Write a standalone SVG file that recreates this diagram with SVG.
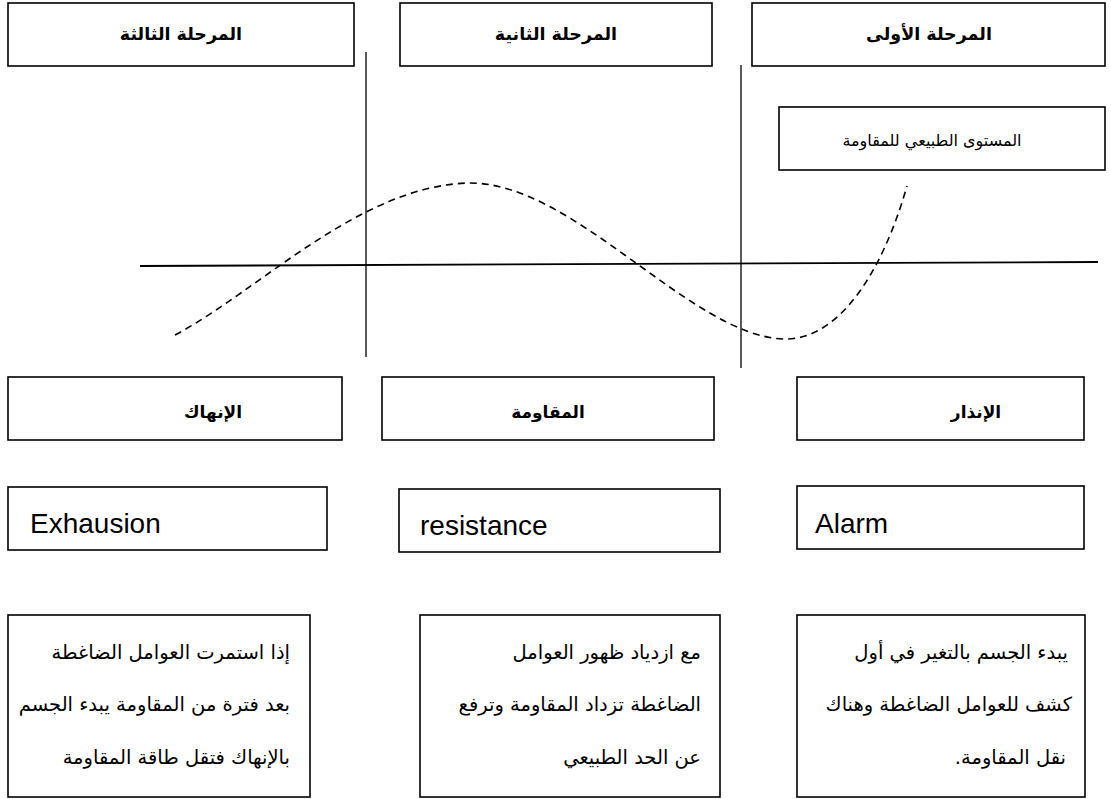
<svg xmlns="http://www.w3.org/2000/svg" width="1111" height="799" viewBox="0 0 1111 799">
<style>
.box{fill:#fff;stroke:#000;stroke-width:1.6}
.ar{font-family:"DejaVu Sans",sans-serif;fill:#000;direction:rtl}
.hd{font-size:17.5px;font-weight:bold;text-anchor:middle}
.hm{font-size:17px;font-weight:bold;text-anchor:middle}
.tx{font-size:19.5px;text-anchor:start}
.en{font-family:"Liberation Sans",Arial,sans-serif;font-size:28px;fill:#000}
.ln{stroke:#000;stroke-width:1.3;fill:none}
.curve{stroke:#000;stroke-width:1.6;fill:none;stroke-dasharray:7 5}
</style>
<rect width="1111" height="799" fill="#fff"/>
<g id="connectors">
<line class="ln" x1="366" y1="52" x2="366" y2="357"/>
<line class="ln" x1="741" y1="65" x2="741" y2="368"/>
<line class="ln" x1="140" y1="266" x2="1098" y2="262" style="stroke-width:1.8"/>
<path class="curve" d="M175,335 C260,290 360,185 470,183 C575,183 690,335 783,339 C835,341 880,280 907,186"/>
</g>
<g id="stage3"><rect class="box" x="8" y="3" width="346" height="63"/><text class="ar hd" x="181" y="40">المرحلة الثالثة</text></g>
<g id="stage2"><rect class="box" x="400" y="3" width="312" height="63"/><text class="ar hd" x="556" y="40">المرحلة الثانية</text></g>
<g id="stage1"><rect class="box" x="752" y="3" width="353" height="63"/><text class="ar hd" x="929" y="40">المرحلة الأولى</text></g>
<g id="normal"><rect class="box" x="779" y="107" width="326" height="63"/><text class="ar" x="932" y="146" style="font-size:16px;text-anchor:middle">المستوى الطبيعي للمقاومة</text></g>
<g id="exhaustion-ar"><rect class="box" x="8" y="377" width="334" height="63"/><text class="ar hm" x="213" y="418">الإنهاك</text></g>
<g id="resistance-ar"><rect class="box" x="382" y="377" width="332" height="63"/><text class="ar hm" x="548" y="418">المقاومة</text></g>
<g id="alarm-ar"><rect class="box" x="797" y="377" width="287" height="63"/><text class="ar hm" x="976" y="418">الإنذار</text></g>
<g id="exhaustion-en"><rect class="box" x="8" y="487" width="319" height="63"/><text class="en" x="30" y="533">Exhausion</text></g>
<g id="resistance-en"><rect class="box" x="399" y="489" width="321" height="63"/><text class="en" x="420" y="535">resistance</text></g>
<g id="alarm-en"><rect class="box" x="797" y="486" width="287" height="63"/><text class="en" x="815" y="533">Alarm</text></g>
<g id="desc3"><rect class="box" x="8" y="615" width="302" height="182"/>
<text class="ar tx" x="290" y="659">إذا استمرت العوامل الضاغطة</text>
<text class="ar tx" x="290" y="711">بعد فترة من المقاومة يبدء الجسم</text>
<text class="ar tx" x="290" y="764">بالإنهاك فتقل طاقة المقاومة</text></g>
<g id="desc2"><rect class="box" x="420" y="615" width="300" height="182"/>
<text class="ar tx" x="701" y="659">مع ازدياد ظهور العوامل</text>
<text class="ar tx" x="701" y="711">الضاغطة تزداد المقاومة وترفع</text>
<text class="ar tx" x="701" y="764">عن الحد الطبيعي</text></g>
<g id="desc1"><rect class="box" x="797" y="615" width="288" height="182"/>
<text class="ar tx" x="1068" y="659">يبدء الجسم بالتغير في أول</text>
<text class="ar tx" x="1072" y="711">كشف للعوامل الضاغطة وهناك</text>
<text class="ar tx" x="1066" y="764">نقل المقاومة.</text></g>
</svg>
